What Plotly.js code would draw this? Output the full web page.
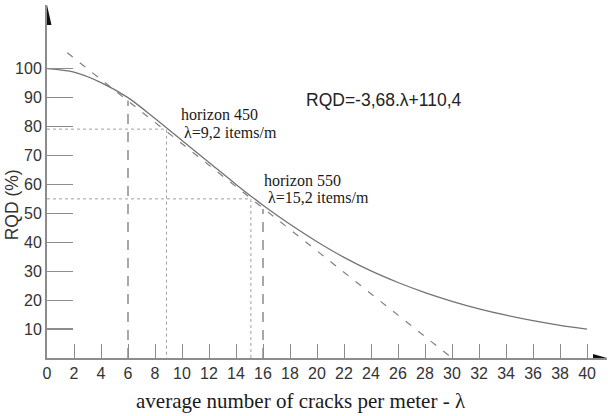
<!DOCTYPE html>
<html>
<head>
<meta charset="utf-8">
<script src="https://cdn.plot.ly/plotly-3.0.1.min.js"></script>
<style>html,body{margin:0;padding:0;background:#fff;}#chart{width:608px;height:416px;}</style>
</head>
<body>
<div id="chart"></div>
<script>
// Data
const lambdaCurve = [0, 2, 4, 6, 8, 10, 12, 14, 16, 18, 20, 22, 24, 26, 28, 30, 32, 34, 36, 38, 40];
const rqdCurve    = [100, 98.8, 95.2, 90, 82.8, 75.2, 67.6, 60, 52.8, 46.2, 40.2, 34.8, 30.1, 26.1, 22.6, 19.6, 17, 14.8, 12.9, 11.3, 10];
const lambdaTrend = [1.5, 30];
const rqdTrend    = [105.5, 0];
const lambdaMarks = [6, 16];
const rqdMarks    = [89, 51.5];
const lambdaHorizon = [8.85, 15.1];
const rqdHorizon    = [79.1, 55];
const xTicks = [0,2,4,6,8,10,12,14,16,18,20,22,24,26,28,30,32,34,36,38,40];
const yTicks = [10,20,30,40,50,60,70,80,90,100];

const traces = [];
// dotted guide lines for horizons
lambdaHorizon.forEach((lx, i) => {
  traces.push({x: [0, lx, lx], y: [rqdHorizon[i], rqdHorizon[i], 0], mode: 'lines',
    line: {color: '#a0a0a0', width: 1, dash: 'dot'}, hoverinfo: 'skip', showlegend: false});
});
// dashed vertical marks
lambdaMarks.forEach((lx, i) => {
  traces.push({x: [lx, lx], y: [0, rqdMarks[i]], mode: 'lines',
    line: {color: '#707070', width: 1.2, dash: '10px,8px'}, hoverinfo: 'skip', showlegend: false});
});
// linear trend (dashed)
traces.push({x: lambdaTrend, y: rqdTrend, mode: 'lines',
  line: {color: '#808080', width: 1.2, dash: '7px,9px'}, hoverinfo: 'skip', showlegend: false});
// RQD curve
traces.push({x: lambdaCurve, y: rqdCurve, mode: 'lines',
  line: {color: '#737373', width: 1.3, shape: 'spline', smoothing: 0.8}, hoverinfo: 'skip', showlegend: false});

const serif = 'Liberation Serif, Times New Roman, serif';
const sans = 'Liberation Sans, Arial, sans-serif';

const layout = {
  width: 608, height: 416,
  margin: {l: 47, r: 1, t: 5, b: 58},
  paper_bgcolor: '#fff', plot_bgcolor: '#fff',
  showlegend: false,
  xaxis: {
    range: [0, 41.48], showgrid: false, zeroline: false,
    showline: true, linecolor: '#8c8c8c', linewidth: 2,
    ticks: 'inside', ticklen: 14, tickwidth: 1, tickcolor: '#8c8c8c',
    tickvals: xTicks, ticktext: xTicks.map(String),
    tickfont: {family: sans, size: 16, color: '#333'}
  },
  yaxis: {
    range: [0, 122], showgrid: false, zeroline: false,
    showline: true, linecolor: '#8c8c8c', linewidth: 2,
    ticks: 'inside', ticklen: 26, tickwidth: 1.2, tickcolor: '#8c8c8c',
    tickvals: yTicks, ticktext: yTicks.map(String),
    tickfont: {family: sans, size: 16, color: '#333'}
  },
  shapes: [
    {type: 'path', xref: 'x', xsizemode: 'pixel', xanchor: 0,
     yref: 'paper', ysizemode: 'pixel', yanchor: 1,
     path: 'M -4.5 -20 L 0 0 L 4.5 -20 Z', fillcolor: '#111', line: {width: 0}},
    {type: 'path', xref: 'paper', xsizemode: 'pixel', xanchor: 1,
     yref: 'y', ysizemode: 'pixel', yanchor: 0,
     path: 'M -14 4 L 0 0 L -14 -4 Z', fillcolor: '#111', line: {width: 0}}
  ],
  annotations: [
    {xref: 'x', yref: 'y', x: 9.75, y: 84.3, xanchor: 'left', yanchor: 'middle', showarrow: false,
     text: 'horizon 450', font: {family: serif, size: 16, color: '#1a1a1a'}},
    {xref: 'x', yref: 'y', x: 10.0, y: 77.8, xanchor: 'left', yanchor: 'middle', showarrow: false,
     text: 'λ=9,2 items/m', font: {family: serif, size: 16, color: '#1a1a1a'}},
    {xref: 'x', yref: 'y', x: 15.9, y: 61.5, xanchor: 'left', yanchor: 'middle', showarrow: false,
     text: 'horizon 550', font: {family: serif, size: 16, color: '#1a1a1a'}},
    {xref: 'x', yref: 'y', x: 16.2, y: 55.3, xanchor: 'left', yanchor: 'middle', showarrow: false,
     text: 'λ=15,2 items/m', font: {family: serif, size: 16, color: '#1a1a1a'}},
    {xref: 'x', yref: 'y', x: 19.0, y: 89.2, xanchor: 'left', yanchor: 'middle', showarrow: false,
     text: 'RQD=-3,68.λ+110,4', font: {family: sans, size: 17.5, color: '#222'}},
    {xref: 'paper', yref: 'paper', x: (301 - 47) / 560, y: -0.122, xanchor: 'center', yanchor: 'middle', showarrow: false,
     text: 'average number of cracks per meter - λ', font: {family: serif, size: 21, color: '#1a1a1a'}},
    {xref: 'paper', yref: 'paper', x: -0.062, y: (358 - 205) / 353, xanchor: 'center', yanchor: 'middle', showarrow: false,
     textangle: -90, text: 'RQD (%)', font: {family: sans, size: 17.5, color: '#333'}}
  ]
};

Plotly.newPlot('chart', traces, layout, {staticPlot: true, displayModeBar: false});
</script>
</body>
</html>
